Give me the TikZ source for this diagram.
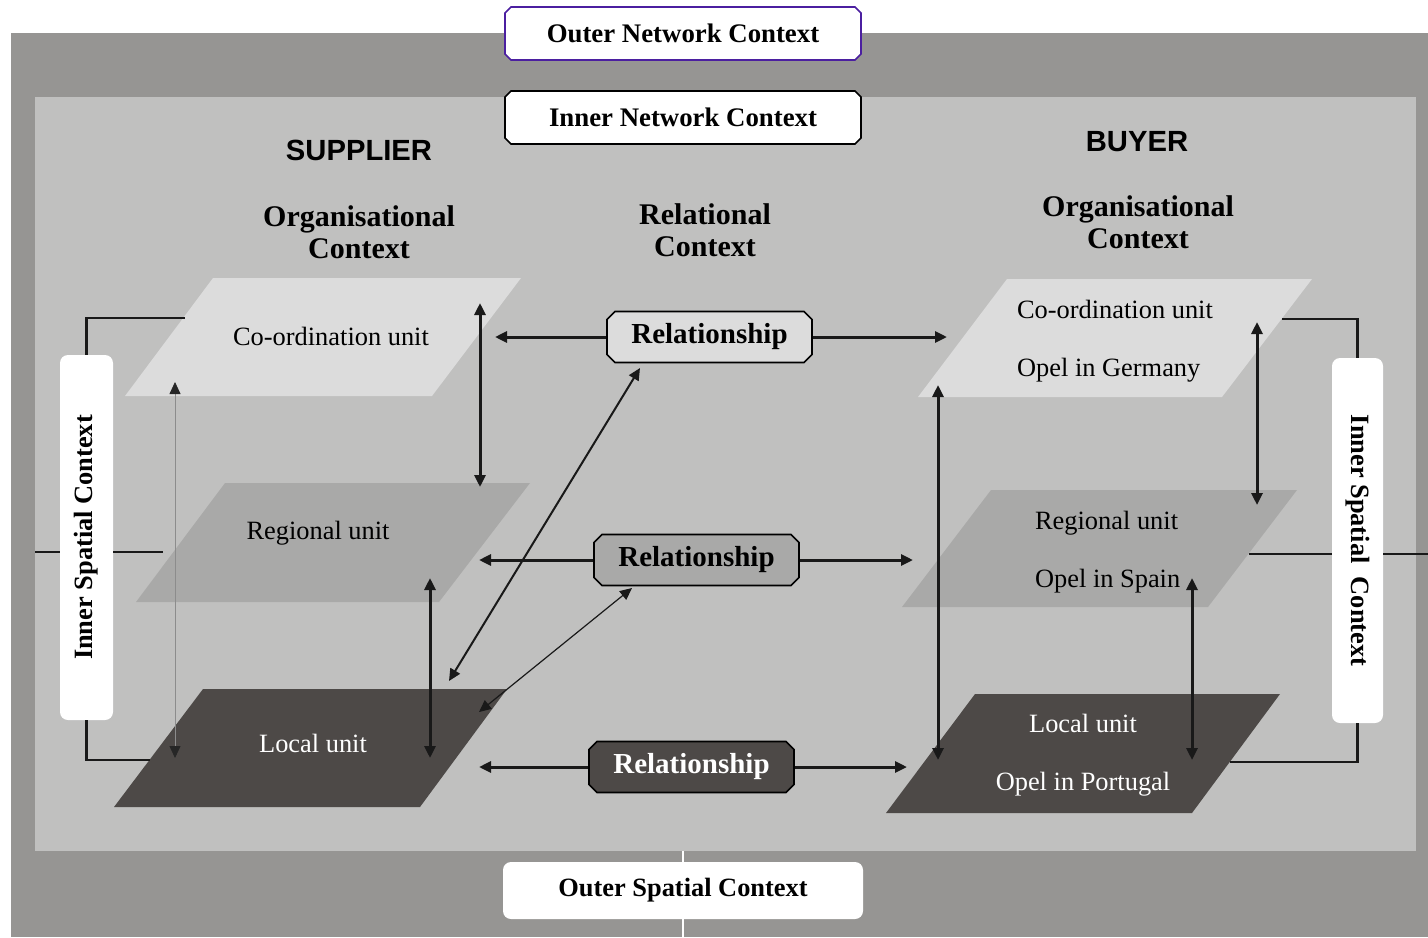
\documentclass[tikz,border=0pt]{standalone}
\usepackage{fontspec}
\usepackage{graphicx}
\setmainfont{Liberation Serif}
\newfontfamily\arialfont{Liberation Sans}
\usetikzlibrary{arrows.meta, shapes.misc}

\definecolor{outergrey}{HTML}{969593}
\definecolor{innergrey}{HTML}{C0C0BF}
\definecolor{lightunit}{HTML}{DCDCDC}
\definecolor{midunit}{HTML}{A9A9A8}
\definecolor{darkunit}{HTML}{4D4947}
\definecolor{netpurple}{HTML}{4B1FA0}

\begin{document}
\begin{tikzpicture}[x=0.5pt, y=-0.5pt,
    arr/.style = {line width=1.5pt, draw=black!90, -{Triangle[length=6pt, width=5.5pt]}},
    darr/.style = {line width=1.5pt, draw=black!90, {Triangle[length=6pt, width=5.5pt]}-{Triangle[length=6pt, width=5.5pt]}},
    thinarr/.style = {line width=0.4pt, draw=black!45, {Triangle[length=6pt, width=5.5pt, color=black!85]}-{Triangle[length=6pt, width=5.5pt, color=black!85]}},
    ctx/.style = {chamfered rectangle, chamfered rectangle xsep=1.5pt, chamfered rectangle ysep=1.5pt, draw, fill=white, line width=0.8pt,
                  minimum width=178pt, minimum height=26.5pt, font=\fontsize{13.4}{15}\selectfont\bfseries},
    rel/.style = {chamfered rectangle, chamfered rectangle xsep=2pt, chamfered rectangle ysep=2pt, draw, line width=0.8pt,
                  minimum width=102.5pt, minimum height=25.5pt, font=\fontsize{14.5}{16}\selectfont\bfseries},
    spatial/.style = {fill=white, rounded corners=4pt, inner sep=0pt, font=\fontsize{13.2}{15}\selectfont\bfseries},
    unit/.style = {font=\fontsize{13.2}{15.5}\selectfont},
    head/.style = {font=\fontsize{15}{16}\selectfont\bfseries, align=center},
    party/.style = {font=\arialfont\fontsize{14.6}{16}\selectfont\bfseries},
    link/.style = {line width=1.2pt, draw=black!90}]
      \useasboundingbox (0,0) rectangle (1428,937);
      \fill[outergrey] (11,33) rectangle (1428,937);
      \fill[innergrey] (35,97) rectangle (1416,851);
      \draw[white, line width=1pt] (683,851) -- (683,937);

      % supplier units
      \fill[lightunit] (125,396) -- (432,396) -- (521,278) -- (213,278) -- cycle;
      \fill[midunit]   (136,602) -- (439,602) -- (530,483) -- (225,483) -- cycle;
      \fill[darkunit]  (114,807) -- (420,807) -- (507,689) -- (203,689) -- cycle;
      % buyer units
      \fill[lightunit] (918,397) -- (1222,397) -- (1312,279) -- (1007,279) -- cycle;
      \fill[midunit]   (902,607) -- (1208,607) -- (1297,490) -- (991,490) -- cycle;
      \fill[darkunit]  (886,813) -- (1192,813) -- (1280,694) -- (975,694) -- cycle;

      \node [unit] (sco) at (331,336) {Co-ordination unit};
      \node [unit] (srg) at (318,533) {Regional unit};
      \node [unit, text=white] (slo) at (313,743) {Local unit};
      \node [unit, align=left, anchor=west] (bco) at (1010,341) {Co-ordination unit\\[13.5pt]Opel in Germany};
      \node [unit, align=left, anchor=west] (brg) at (1028,552) {Regional unit\\[13.5pt]Opel in Spain};
      \node [unit, align=center, text=white] (blo) at (1083,755) {Local unit\\[13.5pt]Opel in Portugal};

      \node [party] (sup) at (359,150) {SUPPLIER};
      \node [head] (sorg) at (359,232) {Organisational\\Context};
      \node [head] (relc) at (705,230) {Relational\\Context};
      \node [party] (buy) at (1137,142) {BUYER};
      \node [head] (borg) at (1138,222) {Organisational\\Context};

      \node [ctx, draw=netpurple] (onc) at (683,33.5) {Outer Network Context};
      \node [ctx] (inc) at (683,117.5) {Inner Network Context};
      \node [spatial, minimum width=180pt, minimum height=28.5pt] (osc) at (683,890.5) {Outer Spatial Context};

      \node [spatial, minimum width=26.5pt, minimum height=182.5pt] (lisc) at (86.5,537.5) {\rotatebox{90}{Inner Spatial Context}};
      \node [spatial, minimum width=25.5pt, minimum height=182.5pt] (risc) at (1357.5,540.5) {\rotatebox{-90}{Inner Spatial\ \ Context}};

      \node [rel, fill=lightunit] (rel1) at (709.5,337) {Relationship};
      \node [rel, fill=midunit] (rel2) at (696.5,560) {Relationship};
      \node [rel, fill=darkunit, text=white] (rel3) at (691.5,767) {Relationship};

      % arrow ends
      \coordinate (sco-r) at (495,337);
      \coordinate (bco-l) at (947,337);
      \coordinate (srg-r) at (479,560);
      \coordinate (brg-l) at (913,560);
      \coordinate (slo-r) at (479,767);
      \coordinate (blo-l) at (907,767);
      \coordinate (sv1a) at (480,303);
      \coordinate (sv1b) at (480,487);
      \coordinate (sv2a) at (430,578);
      \coordinate (sv2b) at (430,758);
      \coordinate (sv3a) at (175,382);
      \coordinate (sv3b) at (175,758);
      \coordinate (d1a) at (449,681);
      \coordinate (d1b) at (640,368);
      \coordinate (d2a) at (479,712);
      \coordinate (d2b) at (632,588);
      \coordinate (bv1a) at (938,385);
      \coordinate (bv1b) at (938,760);
      \coordinate (bv2a) at (1257,322);
      \coordinate (bv2b) at (1257,505);
      \coordinate (bv3a) at (1192,578);
      \coordinate (bv3b) at (1192,760);
      % link ends on the unit edges
      \coordinate (sco-w) at (185,318);
      \coordinate (srg-w) at (163,552);
      \coordinate (slo-w) at (150,760);
      \coordinate (bco-e) at (1282,319);
      \coordinate (brg-e) at (1249,554);
      \coordinate (blo-e) at (1230,762);

      \draw [arr] (rel1.west) -- (sco-r);
      \draw [arr] (rel1.east) -- (bco-l);
      \draw [arr] (rel2.west) -- (srg-r);
      \draw [arr] (rel2.east) -- (brg-l);
      \draw [arr] (rel3.west) -- (slo-r);
      \draw [arr] (rel3.east) -- (blo-l);

      \draw [darr] (sv1a) -- (sv1b);
      \draw [darr] (sv2a) -- (sv2b);
      \draw [thinarr] (sv3a) -- (sv3b);
      \draw [darr, line width=1pt] (d1a) -- (d1b);
      \draw [darr, line width=0.6pt] (d2a) -- (d2b);
      \draw [darr] (bv1a) -- (bv1b);
      \draw [darr] (bv2a) -- (bv2b);
      \draw [darr] (bv3a) -- (bv3b);

      \draw [link] (lisc.north) |- (sco-w);
      \draw [link] (lisc.south) |- (slo-w);
      \draw [link] (35,552) -- (lisc.west |- srg-w);
      \draw [link] (lisc.east |- srg-w) -- (srg-w);
      \draw [link] (risc.north) |- (bco-e);
      \draw [link] (risc.south) |- (blo-e);
      \draw [link] (brg-e) -- (risc.west |- brg-e);
      \draw [link] (risc.east |- brg-e) -- (1428,554);
\end{tikzpicture}
\end{document}
